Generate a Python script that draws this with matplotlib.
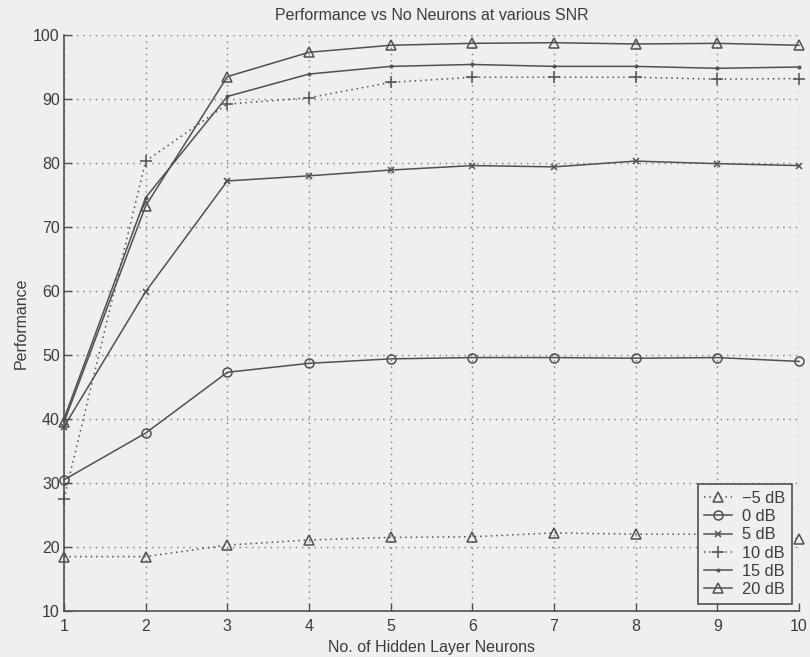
import numpy as np
import matplotlib
matplotlib.use('Agg')
import matplotlib.pyplot as plt

plt.rcParams['font.family'] = ['Liberation Sans', 'DejaVu Sans']

neurons = [1, 2, 3, 4, 5, 6, 7, 8, 9, 10]
snr_labels = ['\u22125 dB', '0 dB', '5 dB', '10 dB', '15 dB', '20 dB']

perf_m5 = [18.5, 18.5, 20.3, 21.1, 21.5, 21.6, 22.2, 22.0, 22.0, 21.3]
perf_0 = [30.5, 37.8, 47.3, 48.7, 49.4, 49.6, 49.6, 49.5, 49.6, 49.0]
perf_5 = [38.8, 59.9, 77.2, 78.0, 78.9, 79.6, 79.4, 80.3, 79.9, 79.6]
perf_10 = [27.5, 80.3, 89.2, 90.2, 92.6, 93.4, 93.4, 93.4, 93.1, 93.2]
perf_15 = [40.0, 74.6, 90.4, 93.9, 95.1, 95.4, 95.1, 95.1, 94.8, 95.0]
perf_20 = [39.5, 73.3, 93.5, 97.3, 98.4, 98.7, 98.8, 98.6, 98.7, 98.4]

bg = '#efefee'
ink = '#505050'
txt = '#3c3c3c'
dotted = (0, (1, 2.5))

fig = plt.figure(figsize=(8.1, 6.57), dpi=100, facecolor=bg)
ax = fig.add_axes([0.079, 0.070, 0.9074, 0.8767], facecolor=bg)

# marker, linestyle, markersize for each SNR curve
styles = [('^', dotted, 7), ('o', '-', 6.5), ('x', '-', 4.5), ('+', dotted, 8), ('.', '-', 3.5), ('^', '-', 7)]
series = [perf_m5, perf_0, perf_5, perf_10, perf_15, perf_20]

for vals, lab, (mk, ls, ms) in zip(series, snr_labels, styles):
    ax.plot(neurons, vals, linestyle=ls, marker=mk, markersize=ms, color=ink,
            markerfacecolor='none', markeredgecolor=ink, linewidth=1.1,
            markeredgewidth=1.1, label=lab, clip_on=False)

ax.set_xlim(1, 10)
ax.set_ylim(10, 100)
ax.set_xticks(neurons)
ax.set_yticks(np.arange(10, 101, 10))
ax.grid(True, linestyle=(0, (1, 3.5)), color='#7a7a7a', linewidth=1.0)

for s in ['top', 'right']:
    ax.spines[s].set_visible(False)
for s in ['left', 'bottom']:
    ax.spines[s].set_color(ink)
    ax.spines[s].set_linewidth(1.2)

ax.tick_params(direction='in', length=6, width=1.0, color=ink, labelcolor=txt,
               labelsize=11.5)
ax.tick_params(axis='x', pad=6)
ax.tick_params(axis='y', pad=3)

ax.set_title('Performance vs No Neurons at various SNR', fontsize=11.5, color=txt, pad=11)
ax.set_xlabel('No. of Hidden Layer Neurons', fontsize=11.5, color=txt, labelpad=4)
ax.set_ylabel('Performance', fontsize=11.5, color=txt, labelpad=3)

leg = ax.legend(loc='lower right', fontsize=11.8, frameon=True, fancybox=False,
                framealpha=1, facecolor=bg, edgecolor=ink, borderaxespad=0.45,
                labelspacing=0.2, handletextpad=0.6, borderpad=0.4, handlelength=1.7)
leg.get_frame().set_linewidth(1.2)
leg.set_zorder(5)
for t in leg.get_texts():
    t.set_color(txt)

fig.savefig('out.png', dpi=100, facecolor=bg)
